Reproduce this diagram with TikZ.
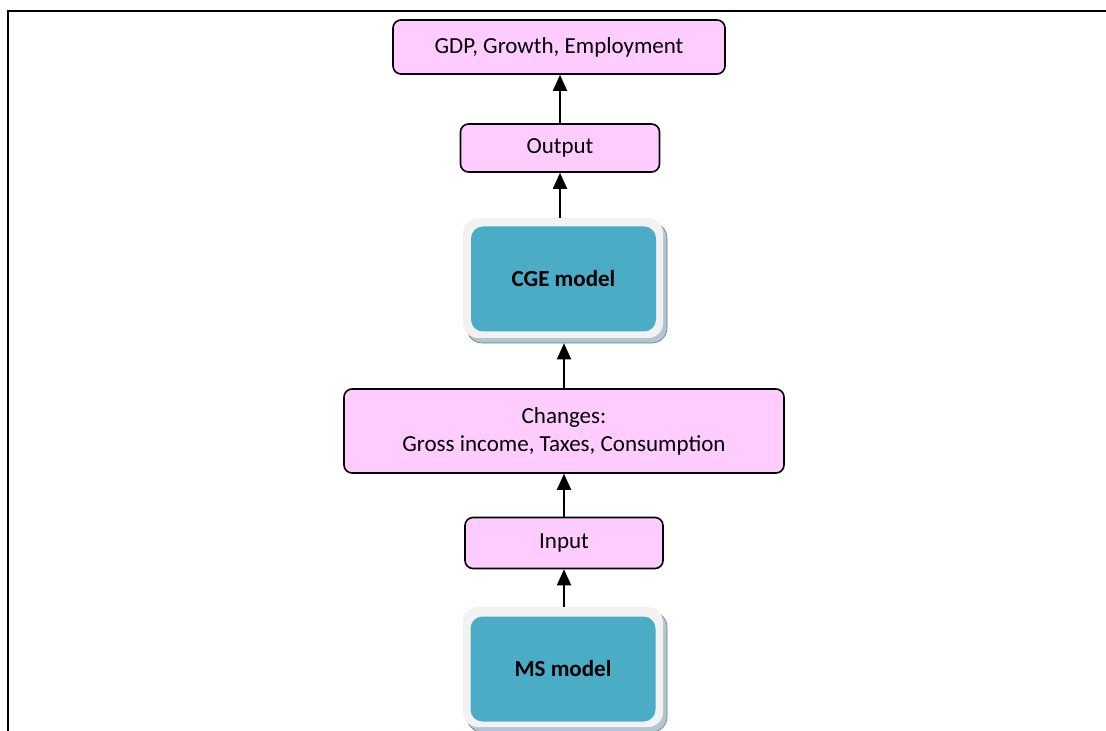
\documentclass[tikz,border=0pt]{standalone}
\usepackage{fontspec}
\setmainfont{Carlito}
\usetikzlibrary{arrows.meta}
\definecolor{pinkbox}{RGB}{255,204,255}
\definecolor{modelteal}{RGB}{75,172,198}
\definecolor{modelrim}{RGB}{242,242,242}
\definecolor{modelshade}{RGB}{178,198,210}

\begin{document}
\begin{tikzpicture}[x=0.5pt,y=-0.5pt,
    flowbox/.style={draw=black,line width=0.8pt,fill=pinkbox,rounded corners=4pt,
        align=center,inner sep=0pt,font=\fontsize{11.5}{14}\selectfont},
    modelshadow/.style={fill=modelshade,draw=modelshade!60!black,line width=0.3pt,
        rounded corners=7.5pt,inner sep=0pt,minimum width=100pt,minimum height=60pt},
    modelrimbox/.style={fill=modelrim,rounded corners=7.5pt,inner sep=0pt,
        minimum width=100pt,minimum height=60pt},
    modelbox/.style={fill=modelteal,rounded corners=6pt,inner sep=0pt,
        minimum width=92.5pt,minimum height=52.5pt,font=\bfseries\fontsize{11.5}{14}\selectfont},
    flowarrow/.style={line width=0.9pt,-{Triangle[width=7pt,length=8pt]}}]
            \clip (0,0) rectangle (1106,731);
            \draw[line width=1pt] (8,735) -- (8,11) -- (1110,11);

            \node[flowbox,minimum width=166pt,minimum height=27pt] (gdp) at (559,47) {GDP, Growth, Employment};
            \node[flowbox,minimum width=99.5pt,minimum height=24pt] (output) at (560,148) {Output};

            \node[modelshadow] (cgeshade) at (567,283) {};
            \node[modelrimbox] (cgerim) at (563,278) {};
            \node[modelbox] (cge) at (563.5,279) {CGE model};

            \node[flowbox,minimum width=220pt,minimum height=42pt] (changes) at (564,431) {Changes:\\Gross income, Taxes, Consumption};
            \node[flowbox,minimum width=99pt,minimum height=25.5pt] (input) at (564,543) {Input};

            \node[modelshadow] (msshade) at (567,672) {};
            \node[modelrimbox] (msrim) at (563,667) {};
            \node[modelbox] (ms) at (563,669) {MS model};

            \draw[flowarrow] (output.north) -- (gdp.south -| output.north);
            \draw[flowarrow] (cgerim.north -| output.south) -- (output.south);
            \draw[flowarrow] (changes.north) -- (cgeshade.south -| changes.north);
            \draw[flowarrow] (input.north) -- (changes.south -| input.north);
            \draw[flowarrow] (msrim.north -| input.south) -- (input.south);
        \end{tikzpicture}
\end{document}
